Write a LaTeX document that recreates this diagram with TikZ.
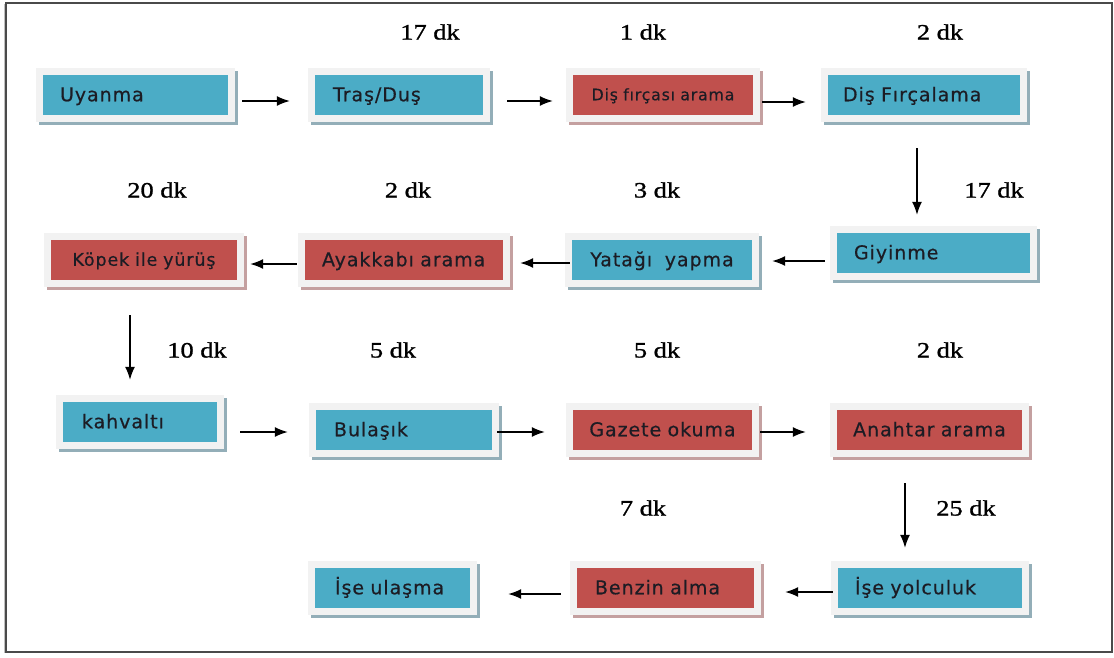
\documentclass[tikz,border=0pt]{standalone}
\usepackage{fontspec}
\usetikzlibrary{arrows.meta,calc}
\newfontfamily\boxfont{DejaVu Sans}[LetterSpace=5, FakeBold=0.5]
\newfontfamily\dkfont{Liberation Serif}[FakeStretch=1.2, FakeBold=1.2]
\definecolor{accblue}{HTML}{4BACC6}
\definecolor{accred}{HTML}{C0504D}
\definecolor{rim}{HTML}{F2F2F2}
\definecolor{shblue}{HTML}{93AEB8}
\definecolor{shred}{HTML}{C4A0A0}
\definecolor{ink}{HTML}{1C1C24}
\definecolor{framegray}{HTML}{4A4A4A}

% one task card: name, x1, y1, x2, y2 (coloured area), style, text pad, text
\newcommand\taskbox[8]{%
  \pgfmathsetmacro\tbW{#4-#2}\pgfmathsetmacro\tbH{#5-#3}%
  \pgfmathsetmacro\tbT{#4-#2-2*#7}%
  \node[#6, minimum width=\tbW pt, minimum height=\tbH pt, text width=\tbT pt,
        inner xsep=#7pt] (#1) at ({(#2+#4)/2},{(#3+#5)/2}) {\mbox{#8}};}

\tikzset{
  card/.style 2 args={rectangle, fill=#1, inner ysep=0pt, text=ink,
    preaction={draw=#2, fill=#2, line width=14pt,
               transform canvas={shift={(3pt,-3pt)}}},
    preaction={draw=rim, fill=rim, line width=14pt}},
  bigtext/.style={font=\boxfont\fontsize{19}{22}\selectfont,
                  text height=12.5pt, text depth=0pt},
  smalltext/.style={font=\boxfont\fontsize{15.8}{18}\selectfont,
                    text height=10.5pt, text depth=0pt},
  midtext/.style={font=\boxfont\fontsize{17.5}{20}\selectfont,
                  text height=11.5pt, text depth=0pt},
  bluecard/.style={card={accblue}{shblue}, bigtext, align=left},
  redcard/.style={card={accred}{shred}, bigtext, align=left},
  bluemid/.style={card={accblue}{shblue}, bigtext, align=center},
  redmid/.style={card={accred}{shred}, bigtext, align=center},
  redsmall/.style={card={accred}{shred}, smalltext, align=center},
  redmidsize/.style={card={accred}{shred}, midtext, align=center},
  arr/.style={line width=1.3pt, -{Latex[length=13pt,width=10pt]}},
  dk/.style={font=\dkfont\fontsize{22}{24}\selectfont, inner sep=0pt}
}

\begin{document}
\begin{tikzpicture}[x=1pt, y=-1pt]
\useasboundingbox (0,0) rectangle (1114,657);
\fill[white] (0,0) rectangle (1114,657);
\draw[line width=1pt, draw=black!25] (4,4) -- (4,653);
\draw[line width=2pt, draw=framegray] (5.5,3) rectangle (1112,652);

% row 1
\taskbox{uyan}{43}{75}{228}{115}{bluecard}{17}{Uyanma}
\taskbox{tras}{315}{75}{483}{115}{bluecard}{18}{Traş/Duş}
\taskbox{disara}{573}{75}{753}{115}{redsmall}{4}{Diş fırçası arama}
\taskbox{disfirc}{828}{75}{1020}{115}{bluecard}{15}{Diş Fırçalama}
% row 2
\taskbox{giy}{837}{233}{1030}{273}{bluecard}{17}{Giyinme}
\taskbox{yatak}{572}{240}{752}{280}{bluemid}{4}{Yatağı~~yapma}
\taskbox{ayak}{305}{240}{503}{280}{redcard}{17}{Ayakkabı arama}
\taskbox{kopek}{51}{240}{237}{280}{redmidsize}{4}{Köpek ile yürüş}
% row 3
\taskbox{kahv}{63}{402}{217}{442}{bluecard}{19}{kahvaltı}
\taskbox{bulas}{316}{410}{492}{450}{bluecard}{18}{Bulaşık}
\taskbox{gazete}{573}{410}{752}{450}{redmid}{4}{Gazete okuma}
\taskbox{anah}{837}{410}{1022}{450}{redmid}{4}{Anahtar arama}
% row 4
\taskbox{iseyol}{838}{568}{1022}{608}{bluecard}{17}{İşe yolculuk}
\taskbox{benzin}{577}{568}{754}{608}{redcard}{18}{Benzin alma}
\taskbox{iseul}{315}{568}{470}{608}{bluecard}{20}{İşe ulaşma}

% durations
\node[dk] (d1)  at (430,32)  {17 dk};
\node[dk] (d2)  at (643,32)  {1 dk};
\node[dk] (d3)  at (940,32)  {2 dk};
\node[dk] (d4)  at (157,190) {20 dk};
\node[dk] (d5)  at (408,190) {2 dk};
\node[dk] (d6)  at (657,190) {3 dk};
\node[dk] (d7)  at (994,190) {17 dk};
\node[dk] (d8)  at (197,350) {10 dk};
\node[dk] (d9)  at (393,350) {5 dk};
\node[dk] (d10) at (657,350) {5 dk};
\node[dk] (d11) at (940,350) {2 dk};
\node[dk] (d12) at (643,508) {7 dk};
\node[dk] (d13) at (966,508) {25 dk};

% connectors
\coordinate (s1) at ([yshift=-6pt]uyan.east);
\draw[arr, shorten <=14pt, shorten >=25pt] (s1) -- (s1 -| tras.west);
\coordinate (s2) at ([yshift=-6pt]tras.east);
\draw[arr, shorten <=24pt, shorten >=20pt] (s2) -- (s2 -| disara.west);
\coordinate (s3) at ([yshift=-7pt]disara.east);
\draw[arr, shorten <=9pt, shorten >=22pt] (s3) -- (s3 -| disfirc.west);
\coordinate (s4) at ([xshift=-7pt]disfirc.south);
\draw[arr, shorten <=33pt, shorten >=18pt] (s4) -- (s4 |- giy.north);
\coordinate (s5) at ([yshift=-8pt]giy.west);
\draw[arr, shorten <=12pt, shorten >=20pt] (s5) -- (s5 -| yatak.east);
\coordinate (s6) at ([yshift=-3pt]yatak.west);
\draw[arr, shorten <=2pt, shorten >=17pt] (s6) -- (s6 -| ayak.east);
\coordinate (s7) at ([yshift=-4pt]ayak.west);
\draw[arr, shorten <=8pt, shorten >=13pt] (s7) -- (s7 -| kopek.east);
\coordinate (s8) at ([xshift=-14pt]kopek.south);
\draw[arr, shorten <=35pt, shorten >=22pt] (s8) -- (s8 |- kahv.north);
\coordinate (s9) at ([yshift=-10pt]kahv.east);
\draw[arr, shorten <=23pt, shorten >=28pt] (s9) -- (s9 -| bulas.west);
\coordinate (s10) at ([yshift=-2pt]bulas.east);
\draw[arr, shorten <=5pt, shorten >=28pt] (s10) -- (s10 -| gazete.west);
\coordinate (s11) at ([yshift=-2pt]gazete.east);
\draw[arr, shorten <=8pt, shorten >=31pt] (s11) -- (s11 -| anah.west);
\coordinate (s12) at ([xshift=-24.5pt]anah.south);
\draw[arr, shorten <=33pt, shorten >=20pt] (s12) -- (s12 |- iseyol.north);
\coordinate (s13) at ([yshift=-4pt]iseyol.west);
\draw[arr, shorten <=5pt, shorten >=31pt] (s13) -- (s13 -| benzin.east);
\coordinate (s14) at ([yshift=-6pt]benzin.west);
\draw[arr, shorten <=16pt, shorten >=38pt] (s14) -- (s14 -| iseul.east);
\end{tikzpicture}
\end{document}
